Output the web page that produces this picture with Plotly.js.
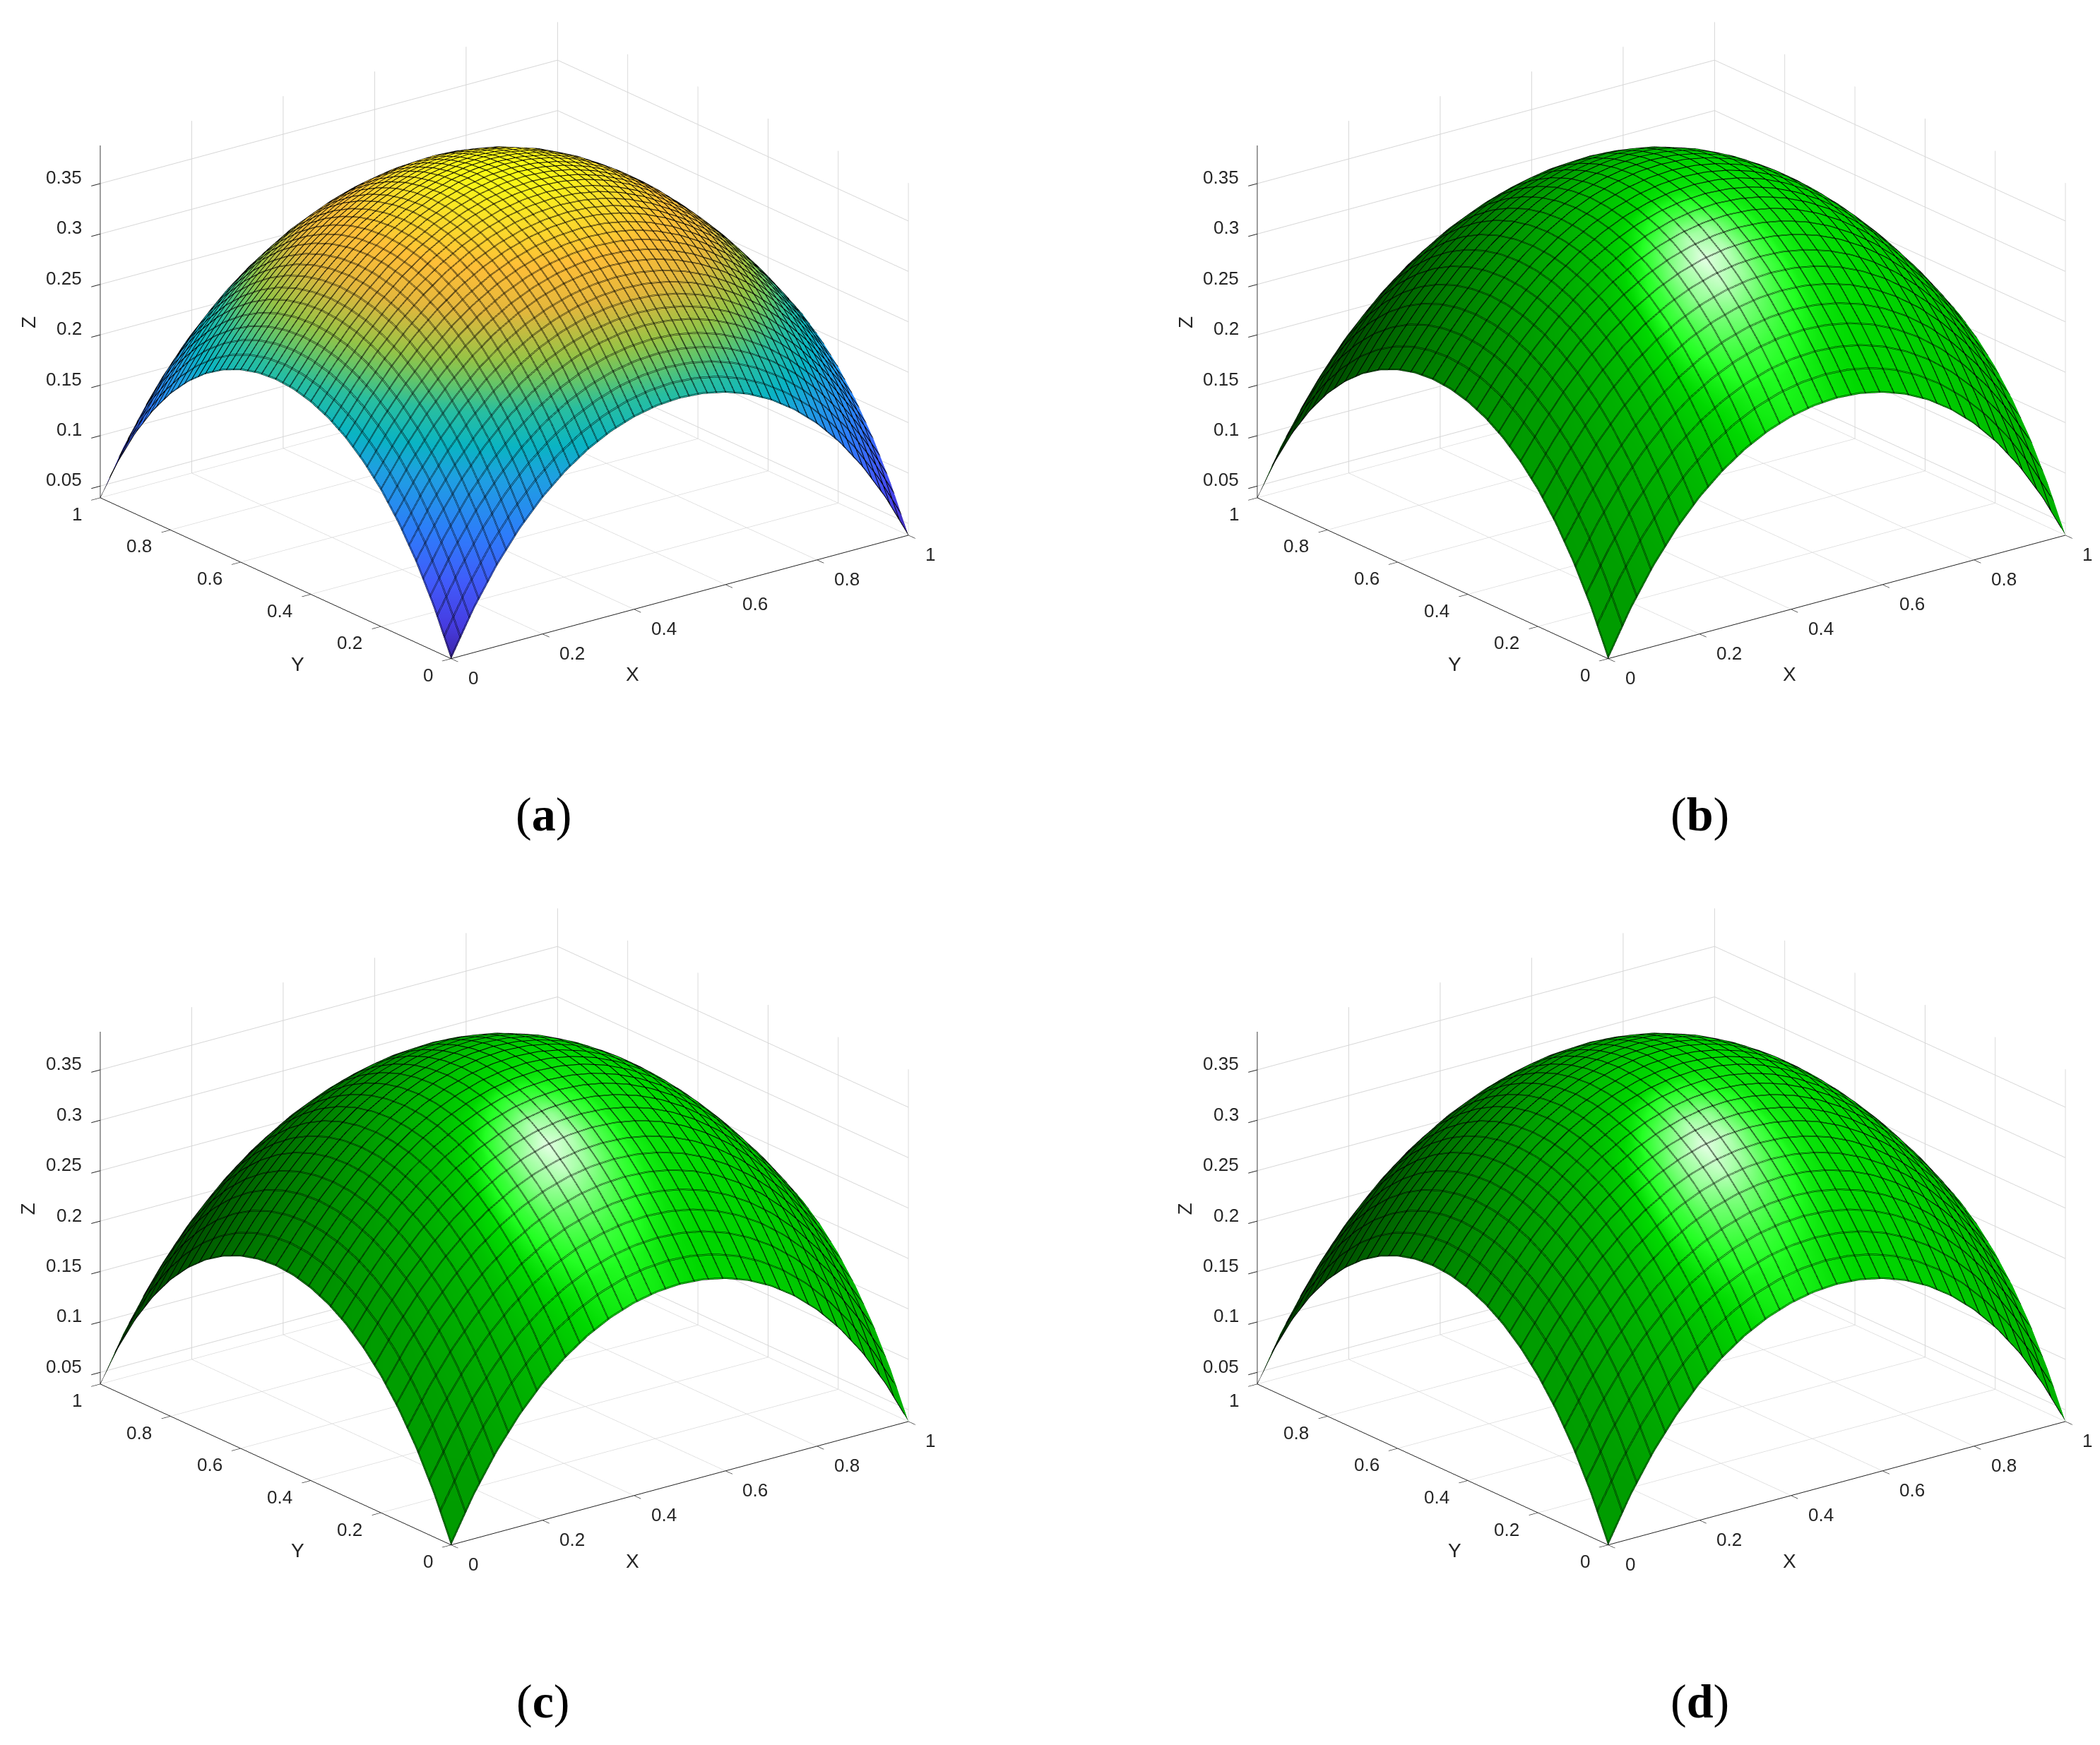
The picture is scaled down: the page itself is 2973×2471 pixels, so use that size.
<!DOCTYPE html>
<html>
<head>
<meta charset="utf-8">
<script src="https://cdn.plot.ly/plotly-3.0.1.min.js"></script>
<style>html,body{margin:0;padding:0;background:#fff}</style>
</head>
<body>
<div id="chart" style="width:2973px;height:2471px"></div>
<script>
// Surface heights, nodes every 0.05 from (0,0) to (0.5,0.5).
const zQuarter = [
 [.0384,.0819,.1184,.1487,.1736,.1935,.2092,.2209,.2290,.2338,.2354],
 [.0819,.1220,.1559,.1840,.2071,.2257,.2402,.2512,.2588,.2632,.2647],
 [.1184,.1559,.1876,.2142,.2361,.2538,.2677,.2782,.2855,.2898,.2913],
 [.1487,.1840,.2142,.2396,.2608,.2779,.2916,.3018,.3089,.3131,.3145],
 [.1736,.2071,.2361,.2608,.2815,.2984,.3118,.3219,.3290,.3332,.3345],
 [.1935,.2257,.2538,.2779,.2984,.3150,.3284,.3385,.3456,.3497,.3511],
 [.2092,.2402,.2677,.2916,.3118,.3284,.3417,.3518,.3589,.3632,.3646],
 [.2209,.2512,.2782,.3018,.3219,.3385,.3518,.3620,.3692,.3733,.3748],
 [.2290,.2588,.2855,.3089,.3290,.3456,.3589,.3692,.3763,.3805,.3819],
 [.2338,.2632,.2898,.3131,.3332,.3497,.3632,.3733,.3805,.3848,.3863],
 [.2354,.2647,.2913,.3145,.3345,.3511,.3646,.3748,.3819,.3863,.3877]
];
const gridNodes = [0,.05,.1,.15,.2,.25,.3,.35,.4,.45,.5,.55,.6,.65,.7,.75,.8,.85,.9,.95,1];
const xyTicks = [0,.2,.4,.6,.8,1];
const xyTickLabels = ['0','0.2','0.4','0.6','0.8','1'];
const zTicks = [.05,.1,.15,.2,.25,.3,.35];
const zTickLabels = ['0.05','0.1','0.15','0.2','0.25','0.3','0.35'];
const zRange = [.0384,.3877];
const panelLabels = ['a','b','c','d'];
const meshCells = [50,32,32,32];
const parula = [[0,'rgb(62,38,168)'],[.08,'rgb(70,60,225)'],[.18,'rgb(65,90,250)'],[.3,'rgb(45,125,250)'],
  [.43,'rgb(30,160,225)'],[.5,'rgb(10,180,195)'],[.58,'rgb(40,190,160)'],[.64,'rgb(100,197,105)'],
  [.69,'rgb(150,195,70)'],[.79,'rgb(228,183,60)'],[.87,'rgb(254,190,55)'],[.95,'rgb(250,225,40)'],[1,'rgb(249,251,21)']];
// Green material, from unlit dark through pure green to the white of the highlight.
const greens = [[0,'rgb(0,0,0)'],[.85/1.8,'rgb(0,217,0)'],[1/1.8,'rgb(35,255,35)'],[1,'rgb(230,255,230)']];
const lightDir = [.106,-.502,.862];
const viewDir = [-.527,-.687,.5];

const zGrid = gridNodes.map((_, i) => gridNodes.map((_, j) =>
  zQuarter[Math.min(i, 20 - i)][Math.min(j, 20 - j)]));

// Shade of the green panels: ambient + diffuse + specular at each node (light fixed to the camera).
const zSpan = zRange[1] - zRange[0], n = gridNodes.length;
const shade = zGrid.map((row, i) => row.map((_, j) => {
  const a = Math.max(j - 1, 0), b = Math.min(j + 1, n - 1), c = Math.max(i - 1, 0), d = Math.min(i + 1, n - 1);
  const gx = (row[b] - row[a]) / zSpan / (gridNodes[b] - gridNodes[a]);
  const gy = (zGrid[d][j] - zGrid[c][j]) / zSpan / (gridNodes[d] - gridNodes[c]);
  const m = Math.hypot(gx, gy, 1), N = [-gx / m, -gy / m, 1 / m];
  const nl = N[0]*lightDir[0] + N[1]*lightDir[1] + N[2]*lightDir[2];
  const R = N.map((v, k) => 2*nl*v - lightDir[k]);
  const rv = Math.max(R[0]*viewDir[0] + R[1]*viewDir[1] + R[2]*viewDir[2], 0);
  return .3 + .6*Math.max(nl, 0) + .9*Math.pow(rv, 10);
}));

const W = 2973, H = 2471, dw = 1240, dh = 960;
const centers = [[714,482],[2352,482],[714,1737.4],[2352,1737.4]];
const labelPos = [[769.5,1153],[2406,1153],[769.5,2409],[2406,2409]];
const eyeLen = 4, boxScale = 1.7;
const eye = {x:-.570*eyeLen,y:-.743*eyeLen,z:.352*eyeLen};
const font = {family:'"Liberation Sans",Arial,sans-serif',size:26,color:'#262626'};

function axis(extra){
  return Object.assign({showbackground:false,showgrid:true,gridcolor:'#d6d6d6',gridwidth:2,zeroline:false,
    showline:true,linecolor:'#202020',linewidth:2,ticks:'outside',ticklen:16,tickcolor:'#202020',tickwidth:2,
    showticklabels:false,showspikes:false,title:{text:''},autorange:false},extra);
}
function note(x,y,z,text,anchor,dx,dy,extra){
  return Object.assign({x,y,z,text,showarrow:false,xanchor:anchor,yanchor:'middle',xshift:dx,yshift:dy,font},extra||{});
}
const flat = {ambient:1,diffuse:0,specular:0,roughness:1,fresnel:0};
const data = [], layout = {width:W,height:H,margin:{l:0,r:0,t:0,b:0},paper_bgcolor:'#fff',showlegend:false,annotations:[]};
panelLabels.forEach((p,k)=>{
  const id = k ? 'scene'+(k+1) : 'scene', [cx,cy] = centers[k], size = 1/meshCells[k];
  const lineStyle = {show:true,start:0,end:1,size,color:'#000',width:2,highlight:false};
  data.push(Object.assign({type:'surface',scene:id,x:gridNodes,y:gridNodes,z:zGrid,showscale:false,hoverinfo:'skip',lighting:flat,
    contours:{x:lineStyle,y:lineStyle,z:{show:false,highlight:false}}},
    k===0 ? {colorscale:parula,cmin:zRange[0],cmax:zRange[1]}
          : {surfacecolor:shade,colorscale:greens,cmin:0,cmax:1.8}));
  // A second pass of the mesh, one pixel over, gives the lines their width.
  const lineStyle2 = Object.assign({},lineStyle,{start:.0016});
  data.push({type:'surface',scene:id,x:gridNodes,y:gridNodes,z:zGrid,showscale:false,hoverinfo:'skip',hidesurface:true,lighting:flat,
    contours:{x:lineStyle2,y:lineStyle2,z:{show:false,highlight:false}}});
  const ann = [];
  xyTicks.forEach((t,i)=>{
    ann.push(note(t,0,zRange[0],xyTickLabels[i],'left',22,-27));
    ann.push(note(0,t,zRange[0],xyTickLabels[i],'right',-24,-23));
  });
  zTicks.forEach((t,i)=>ann.push(note(0,1,t,zTickLabels[i],'right',-24,9)));
  const titleFont = Object.assign({},font,{size:28});
  ann.push(note(.4,0,zRange[0],'X','center',-2,-92,{font:titleFont}));
  ann.push(note(0,.4,zRange[0],'Y','center',-18,-99,{font:titleFont}));
  ann.push(note(0,1,.2,'Z','center',-102,18,{font:titleFont,textangle:-90}));
  layout[id] = {
    domain:{x:[(cx-dw/2)/W,(cx+dw/2)/W],y:[1-(cy+dh/2)/H,1-(cy-dh/2)/H]},
    aspectmode:'manual',aspectratio:{x:boxScale,y:boxScale,z:.653*boxScale},
    camera:{eye,center:{x:0,y:0,z:0},up:{x:0,y:0,z:1},projection:{type:'orthographic'}},
    xaxis:axis({range:[0,1],tickvals:xyTicks}),
    yaxis:axis({range:[0,1],tickvals:xyTicks}),
    zaxis:axis({range:zRange,tickvals:zTicks}),
    annotations:ann
  };
  layout.annotations.push({xref:'paper',yref:'paper',x:labelPos[k][0]/W,y:1-labelPos[k][1]/H,showarrow:false,
    xanchor:'center',yanchor:'middle',text:'(<b>'+p+'</b>)',font:{family:'"Liberation Serif",serif',size:68,color:'#000'}});
});
window.addEventListener('load',()=>setTimeout(()=>Plotly.newPlot('chart',data,layout,{displayModeBar:false}),0));
</script>
</body>
</html>
